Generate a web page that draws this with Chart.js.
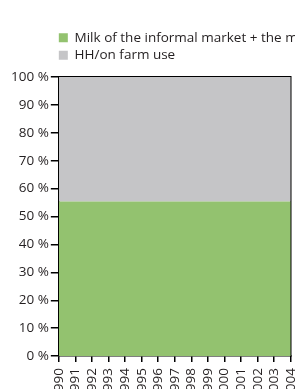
<!DOCTYPE html>
<html>
<head>
<meta charset="utf-8">
<script src="https://cdn.jsdelivr.net/npm/chart.js@4"></script>
<style>
  html, body { margin: 0; padding: 0; background: #fff; overflow: hidden; }
  #wrap { position: relative; width: 295px; height: 389px; overflow: hidden; }
  #box { position: absolute; left: 0; top: 0; width: 313px; height: 405px; }
</style>
</head>
<body>
<div id="wrap"><div id="box"><canvas id="myChart"></canvas></div></div>
<script>
const years = ['1990', '1991', '1992', '1993', '1994', '1995', '1996', '1997', '1998', '1999', '2000', '2001', '2002', '2003', '2004'];
const informalMilk = [55.4, 55.4, 55.4, 55.4, 55.4, 55.4, 55.4, 55.4, 55.4, 55.4, 55.4, 55.4, 55.4, 55.4, 55.4];
const farmUse = [44.6, 44.6, 44.6, 44.6, 44.6, 44.6, 44.6, 44.6, 44.6, 44.6, 44.6, 44.6, 44.6, 44.6, 44.6];
const yTicks = [0, 10, 20, 30, 40, 50, 60, 70, 80, 90, 100];

const ink = '#231f20';
Chart.defaults.font.family = "'Open Sans', sans-serif";
Chart.defaults.font.size = 13.5;
Chart.defaults.color = ink;

// moves the legend so it lines up with the y axis
const legendShift = {
    id: 'legendShift',
    afterLayout(chart) {
        chart.legend.left = chart.chartArea.left - 4;
        chart.legend.top += 3;
    }
};

const ctx = document.getElementById('myChart').getContext('2d');
const myChart = new Chart(ctx, {
    type: 'line',
    data: {
        labels: years,
        datasets: [
            {
                label: 'Milk of the informal market + the milk of the formal market',
                data: informalMilk,
                backgroundColor: '#93c26f',
                borderColor: '#93c26f',
                borderWidth: 0,
                pointRadius: 0,
                fill: 'origin'
            },
            {
                label: 'HH/on farm use',
                data: farmUse,
                backgroundColor: '#c5c5c7',
                borderColor: '#c5c5c7',
                borderWidth: 0,
                pointRadius: 0,
                fill: '-1'
            }
        ]
    },
    options: {
        responsive: true,
        maintainAspectRatio: false,
        animation: false,
        layout: { padding: { top: 24, left: 9, right: 0, bottom: 0 } },
        plugins: {
            legend: {
                position: 'top',
                align: 'start',
                labels: { boxWidth: 9, boxHeight: 9, padding: 4, color: ink }
            },
            tooltip: { enabled: false }
        },
        scales: {
            x: {
                stacked: true,
                offset: false,
                grid: { drawOnChartArea: false, color: '#000', lineWidth: 1.5, tickLength: 6 },
                border: { color: '#000', width: 1.5 },
                ticks: { autoSkip: false, maxRotation: 90, minRotation: 90, padding: 6, color: ink }
            },
            y: {
                stacked: true,
                min: 0,
                max: 100,
                afterBuildTicks: axis => { axis.ticks = yTicks.map(v => ({ value: v })); },
                grid: { drawOnChartArea: false, color: '#000', lineWidth: 1.5, tickLength: 8 },
                border: { color: '#000', width: 1.5 },
                ticks: { padding: 2, color: ink, callback: v => v + ' %' }
            },
            x2: {
                type: 'linear',
                position: 'top',
                grid: { display: false },
                border: { color: '#000', width: 1.5 },
                ticks: { display: false }
            },
            y2: {
                type: 'linear',
                position: 'right',
                grid: { display: false },
                border: { color: '#000', width: 1.5 },
                ticks: { display: false }
            }
        }
    },
    plugins: [legendShift]
});
</script>
</body>
</html>
